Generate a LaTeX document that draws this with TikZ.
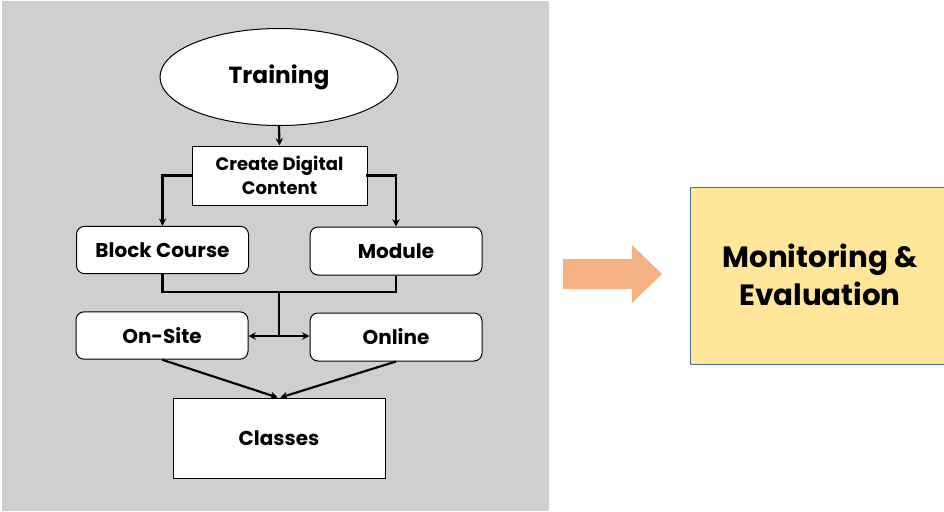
\documentclass[tikz,border=0pt]{standalone}
\usepackage{fontspec}
\setmainfont{Poppins}
\usetikzlibrary{shapes.geometric,arrows.meta}
\definecolor{panelgrey}{HTML}{D0CECE}
\definecolor{arroworange}{HTML}{F4B183}
\definecolor{meyellow}{HTML}{FFE699}
\definecolor{meblue}{HTML}{41719C}
\begin{document}
\begin{tikzpicture}[x=0.75pt,y=-0.75pt,
  box/.style={draw=black,line width=0.75pt,fill=white,rounded corners=6pt,inner sep=0pt,
    minimum width=129pt,minimum height=35.5pt,font=\bfseries\fontsize{15}{17}\selectfont,align=center},
  sqbox/.style={draw=black,line width=0.75pt,fill=white,inner sep=0pt,align=center,font=\bfseries},
  conn/.style={line width=1.6pt,line cap=rect},
  arr/.style={conn,-{Stealth[length=5.5pt,width=5.5pt]}}]
\useasboundingbox (0,0) rectangle (944,511);
\fill[panelgrey] (2,1) rectangle (549,511);
% nodes
\node[draw=black,line width=0.75pt,fill=white,ellipse,inner sep=0pt,minimum width=178.5pt,minimum height=72.75pt,
  font=\bfseries\fontsize{17.5}{20}\selectfont] (train) at (279,77) {Training};
\node[sqbox,minimum width=131.25pt,minimum height=44.25pt,font=\bfseries\fontsize{13.5}{18.5}\selectfont] (create) at (279.5,175.5) {Create Digital\\Content};
\node[box] (block) at (162.5,250) {Block Course};
\node[box,minimum height=36pt] (module) at (396,251) {Module};
\node[box] (onsite) at (162,335.5) {On-Site};
\node[box,minimum height=36pt] (online) at (396,337) {Online};
\node[sqbox,minimum width=159pt,minimum height=60pt,font=\bfseries\fontsize{15}{17}\selectfont] (classes) at (279,438) {Classes};
\coordinate (j) at (279,292);
\coordinate (k) at (279,336);
% connectors
\draw[arr] (train.south) -- (create.north);
\draw[arr] (create.west) -| (block.north);
\draw[arr] (create.east) -| (module.north);
\draw[conn,line cap=butt] (block.south) |- (j) -| (module.south);
\draw[conn,line cap=butt] (j) -- (k);
\draw[arr,line cap=butt] (k) -- (onsite.east |- k);
\draw[arr,line cap=butt] (k) -- (online.west |- k);
\draw[arr,line cap=butt] (onsite.south) -- ([xshift=-1pt]classes.north);
\draw[arr,line cap=butt] (online.south) -- ([xshift=1pt]classes.north);
% right side
\fill[arroworange] (563,259) -- (632,259) -- (632,245) -- (662,274) -- (632,303) -- (632,289) -- (563,289) -- cycle;
\draw[meblue,fill=meyellow,line width=0.75pt] (690.5,187.5) rectangle (952,364);
\node[font=\bfseries\fontsize{22}{29}\selectfont,align=center] (me) at (820,275) {Monitoring \&\\Evaluation};
\end{tikzpicture}
\end{document}
